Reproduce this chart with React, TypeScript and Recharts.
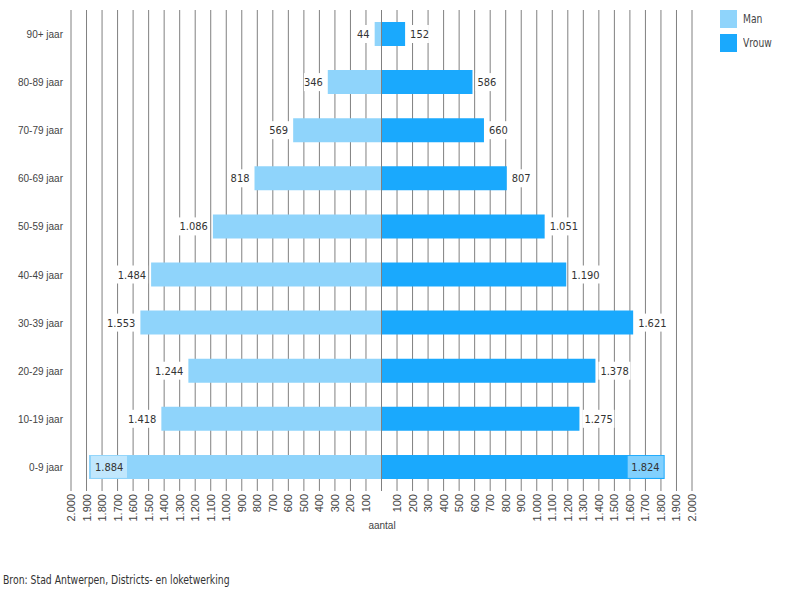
import React from "react";
import { BarChart, Bar, XAxis, YAxis, CartesianGrid, ReferenceLine, LabelList } from "recharts";

const categories = ["90+ jaar", "80-89 jaar", "70-79 jaar", "60-69 jaar", "50-59 jaar", "40-49 jaar", "30-39 jaar", "20-29 jaar", "10-19 jaar", "0-9 jaar"];
const manValues = [44, 346, 569, 818, 1086, 1484, 1553, 1244, 1418, 1884];
const vrouwValues = [152, 586, 660, 807, 1051, 1190, 1621, 1378, 1275, 1824];
const xTicks = Array.from({ length: 41 }, (_, i) => -2000 + i * 100);

const MAN_COLOR = "#8fd4fb";
const VROUW_COLOR = "#1aa9fd";
const PLOT_LEFT = 71;
const PLOT_RIGHT = 692;

const data = categories.map((c, i) => ({ cat: c, man: -manValues[i], vrouw: vrouwValues[i] }));

const fmt = (v: number) => {
  const a = Math.abs(Math.round(v));
  return a.toString().replace(/\B(?=(\d{3})+(?!\d))/g, ".");
};

const LABEL_FONT = "'DejaVu Sans Condensed', 'Liberation Sans Narrow', 'DejaVu Sans', sans-serif";
const labelStyle: React.CSSProperties = { fontStretch: "condensed" };

const makeLabel = (side: "left" | "right") => (props: any) => {
  const { x, y, width, height, value } = props;
  const left = Math.min(x, x + width);
  const right = Math.max(x, x + width);
  const text = fmt(value);
  const tw = text.length * 5.6;
  const cy = y + height / 2;
  const common = { fontSize: 11, fill: "#333", fontFamily: LABEL_FONT, style: labelStyle };
  if (side === "left") {
    const outsideEnd = left - 5;
    if (outsideEnd - tw >= PLOT_LEFT) {
      return (
        <g>
          <rect x={outsideEnd - tw - 2} y={cy - 9} width={tw + 4} height={18} fill="#fff" />
          <text x={outsideEnd} y={cy + 4} textAnchor="end" {...common}>{text}</text>
        </g>
      );
    }
    return (
      <g>
        <rect x={left + 2} y={y + 1} width={tw + 8} height={height - 2} fill="rgba(255,255,255,0.45)" />
        <text x={left + 6} y={cy + 4} textAnchor="start" {...common}>{text}</text>
      </g>
    );
  }
  const outsideStart = right + 5;
  if (outsideStart + tw <= PLOT_RIGHT) {
    return (
      <g>
        <rect x={outsideStart - 2} y={cy - 9} width={tw + 4} height={18} fill="#fff" />
        <text x={outsideStart} y={cy + 4} textAnchor="start" {...common}>{text}</text>
      </g>
    );
  }
  return (
    <g>
      <rect x={right - tw - 9} y={y + 1} width={tw + 8} height={height - 2} fill="rgba(255,255,255,0.45)" />
      <text x={right - 5} y={cy + 4} textAnchor="end" {...common}>{text}</text>
    </g>
  );
};

const XTick = (props: any) => {
  const { x, y, payload } = props;
  if (payload.value === 0) return null;
  const ty = y - 5;
  return (
    <text
      x={x + 4}
      y={ty}
      transform={`rotate(-90, ${x + 4}, ${ty})`}
      textAnchor="end"
      fontSize={11}
      fill="#444"
      fontFamily="'Liberation Sans', Arial, sans-serif"
    >
      {fmt(payload.value)}
    </text>
  );
};

const YTick = (props: any) => {
  const { x, y, payload } = props;
  return (
    <text x={x} y={y + 4} textAnchor="end" fontSize={10} fill="#444" fontFamily="'Liberation Sans', Arial, sans-serif">
      {payload.value}
    </text>
  );
};

export default function App() {
  return (
    <div style={{ position: "absolute", left: 0, top: 0, width: 800, height: 600, background: "#fff" }}>
      <BarChart
        width={800}
        height={600}
        data={data}
        layout="vertical"
        stackOffset="sign"
        margin={{ top: 10, right: 108, bottom: 69, left: 8 }}
        barSize={24}
      >
        <CartesianGrid vertical={true} horizontal={false} stroke="#808080" strokeWidth={1} />
        <XAxis
          type="number"
          domain={[-2000, 2000]}
          ticks={xTicks}
          interval={0}
          axisLine={false}
          tickLine={false}
          tick={<XTick />}
          height={40}
        />
        <YAxis type="category" dataKey="cat" width={63} axisLine={false} tickLine={false} tick={<YTick />} />
        <Bar dataKey="man" stackId="a" fill={MAN_COLOR} isAnimationActive={false}>
          <LabelList dataKey="man" content={makeLabel("left")} />
        </Bar>
        <Bar dataKey="vrouw" stackId="a" fill={VROUW_COLOR} isAnimationActive={false}>
          <LabelList dataKey="vrouw" content={makeLabel("right")} />
        </Bar>
        <ReferenceLine x={0} stroke="#808080" strokeWidth={1} />
      </BarChart>
      <div style={{ position: "absolute", left: 0, top: 520, width: 764, textAlign: "center", fontSize: 10, color: "#444", fontFamily: "'Liberation Sans', Arial, sans-serif" }}>
        aantal
      </div>
      <div style={{ position: "absolute", left: 720, top: 10, fontFamily: LABEL_FONT, fontStretch: "condensed", fontSize: 12, color: "#444" }}>
        <div style={{ display: "flex", alignItems: "center", height: 18, marginBottom: 6 }}>
          <span style={{ display: "inline-block", width: 17, height: 18, background: MAN_COLOR, marginRight: 6 }} />
          <span style={{ display: "inline-block", transform: "scaleX(0.85)", transformOrigin: "left center" }}>Man</span>
        </div>
        <div style={{ display: "flex", alignItems: "center", height: 18 }}>
          <span style={{ display: "inline-block", width: 17, height: 18, background: VROUW_COLOR, marginRight: 6 }} />
          <span style={{ display: "inline-block", transform: "scaleX(0.85)", transformOrigin: "left center" }}>Vrouw</span>
        </div>
      </div>
      <div style={{ position: "absolute", left: 3, top: 573, fontFamily: LABEL_FONT, fontStretch: "condensed", fontSize: 12, color: "#333", transform: "scaleX(0.86)", transformOrigin: "left center", whiteSpace: "nowrap" }}>
        Bron: Stad Antwerpen, Districts- en loketwerking
      </div>
    </div>
  );
}
